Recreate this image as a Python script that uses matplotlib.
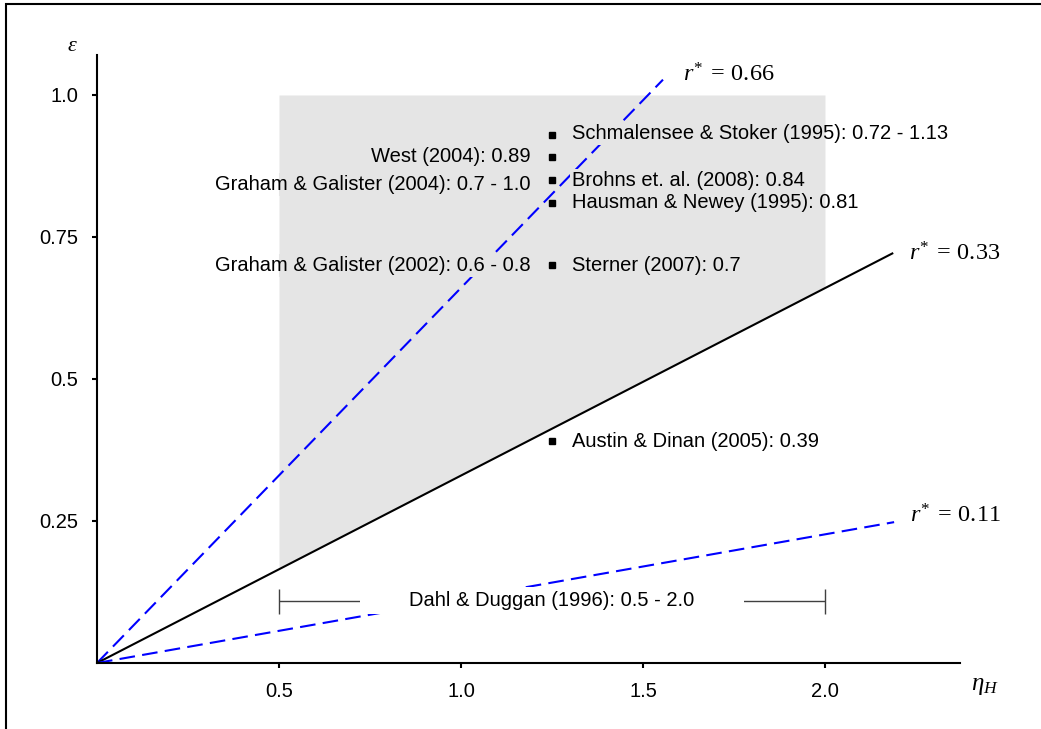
import matplotlib
matplotlib.use("Agg")
import matplotlib.pyplot as plt
from matplotlib.patches import Rectangle

plt.rcParams["font.family"] = ["Liberation Sans", "DejaVu Sans"]
plt.rcParams["mathtext.fontset"] = "custom"
plt.rcParams["mathtext.rm"] = "Liberation Serif"
plt.rcParams["mathtext.it"] = "Liberation Serif:italic"

# r* rays from the origin: label, end point (eta, eps)
r_labels = ["0.66", "0.33", "0.11"]
r_end_eta = [1.555, 2.185, 2.19]
r_end_eps = [1.027, 0.721, 0.248]

# shaded plausible region: eta range, eps upper bound (lower bound = r*=0.33 ray)
band_eta = [0.5, 2.0]
band_top = 1.0

# point estimates (all plotted at eta = 1.25)
est_eta = 1.25
est_eps = [0.93, 0.89, 0.85, 0.81, 0.70, 0.39]

right_labels = ["Schmalensee & Stoker (1995): 0.72 - 1.13", "Brohns et. al. (2008): 0.84",
                "Hausman & Newey (1995): 0.81", "Sterner (2007): 0.7", "Austin & Dinan (2005): 0.39"]
right_y = [0.933, 0.85, 0.81, 0.70, 0.39]
left_labels = ["West (2004): 0.89", "Graham & Galister (2004): 0.7 - 1.0",
               "Graham & Galister (2002): 0.6 - 0.8"]
left_y = [0.891, 0.843, 0.70]

# Dahl & Duggan interval on eta
dahl_label = "Dahl & Duggan (1996): 0.5 - 2.0"
dahl_range = [0.5, 2.0]
dahl_eps = 0.11

xticks = [0.5, 1.0, 1.5, 2.0]
yticks = [0.25, 0.5, 0.75, 1.0]
yticklabels = ["0.25", "0.5", "0.75", "1.0"]

GRAY = "#e5e5e5"
FS = 14.5
fig = plt.figure(figsize=(10.41, 7.29), dpi=100)
ax = fig.add_axes([97 / 1041, 66 / 729, 863 / 1041, 608 / 729])
ax.set_xlim(0, 2.371); ax.set_ylim(0, 1.0704)

slope = r_end_eps[1] / r_end_eta[1]
band = ax.fill_between(band_eta, [slope * x for x in band_eta], band_top, color=GRAY, lw=0, zorder=0)
clip = band.get_paths()[0]

ray_styles = [("#0000ff", (0, (7.5, 3.5))), ("black", "-"), ("#0000ff", (0, (7.5, 3.5)))]
label_offsets = [(20, -2), (17, -7), (16, 0)]
for lab, ex, ey, (col, ls), off in zip(r_labels, r_end_eta, r_end_eps, ray_styles, label_offsets):
    ax.plot([0, ex], [0, ey], color=col, ls=ls, lw=1.5, zorder=2)
    ax.annotate(rf"$r^{{*}}\;=\,{lab}$", (ex, ey), xytext=off, textcoords="offset pixels",
                fontsize=17.5, ha="left", va="baseline")

# Dahl & Duggan bar, partly hidden behind its label
mid = sum(dahl_range) / 2
ax.errorbar(mid, dahl_eps, xerr=(dahl_range[1] - dahl_range[0]) / 2, fmt="none", ecolor="#404040",
            elinewidth=1, capsize=9, capthick=1, zorder=2)
ax.text(mid, dahl_eps, " " * 8 + dahl_label + " " * 8, ha="center", va="center", fontsize=FS, zorder=3,
        bbox=dict(boxstyle="square,pad=0.2", fc="white", ec="none"))

ax.plot([est_eta] * len(est_eps), est_eps, "s", color="black", ms=4.2, zorder=5)
for labs, ys, dx, ha in [(right_labels, right_y, 20, "left"), (left_labels, left_y, -21, "right")]:
    for t, y in zip(labs, ys):
        a = ax.annotate(t, (est_eta, y), xytext=(dx, 0), textcoords="offset pixels", ha=ha, va="center",
                        fontsize=FS, zorder=4, bbox=dict(boxstyle="square,pad=0.1", fc=GRAY, ec="none"))
        a.get_bbox_patch().set_clip_path(clip, ax.transData)

for sp in ("top", "right"): ax.spines[sp].set_visible(False)
for sp in ("left", "bottom"): ax.spines[sp].set_linewidth(1.5)
ax.set_xticks(xticks); ax.set_xticklabels([f"{x:.1f}" for x in xticks])
ax.set_yticks(yticks); ax.set_yticklabels(yticklabels)
ax.tick_params(direction="out", length=3.6, width=1.5, pad=10, labelsize=FS)

ax.text(-0.028, 1.015, r"$\varepsilon$", transform=ax.transAxes, fontsize=16, ha="center", va="center")
ax.text(1.029, -0.036, r"$\eta_H$", transform=ax.transAxes, fontsize=18, ha="center", va="center")

fig.patches.append(Rectangle((6 / 1041, -0.1), 1.2, (729 - 4) / 729 + 0.1, transform=fig.transFigure,
                             fill=False, ec="black", lw=1.5))
fig.savefig("out.png", dpi=100)
